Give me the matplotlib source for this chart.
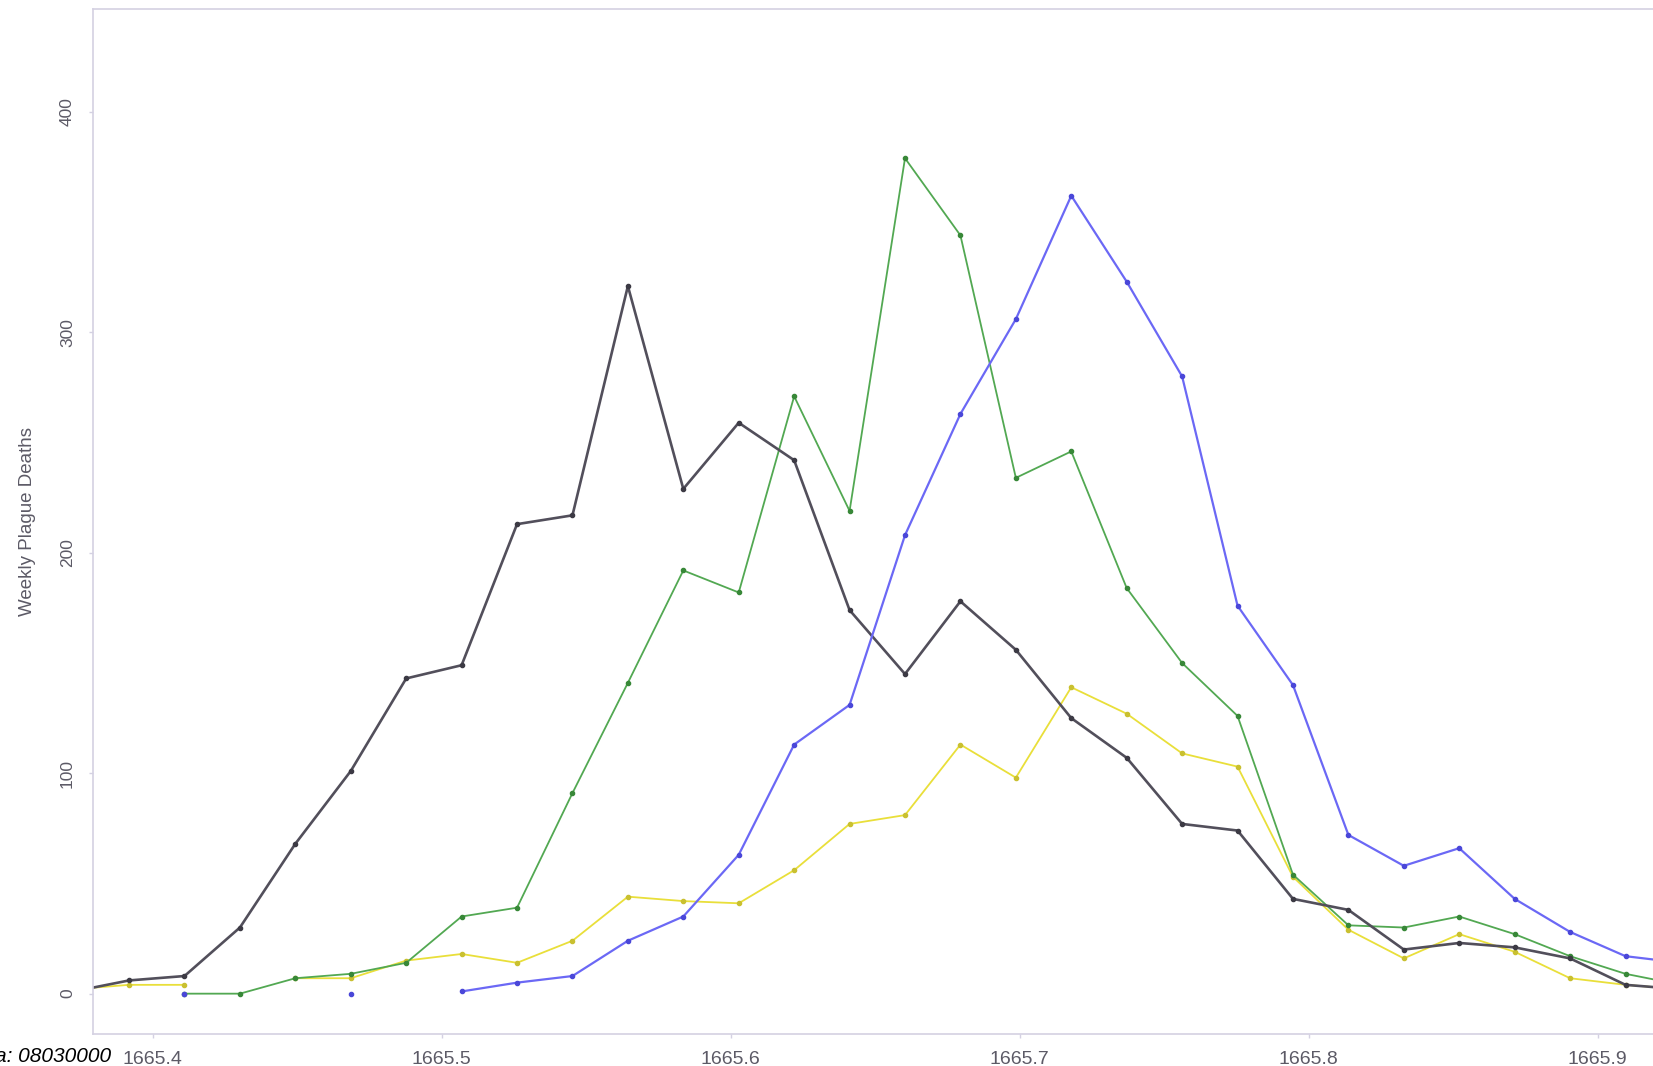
import numpy as np
import matplotlib
matplotlib.use("Agg")
import matplotlib.pyplot as plt

plt.rcParams['font.family'] = ['Liberation Sans', 'DejaVu Sans']

# Week-ending day of year, 1665
week_day = [136, 143, 150, 157, 164, 171, 178, 185, 192, 199,
            206, 213, 220, 227, 234, 241, 248, 255, 262, 269,
            276, 283, 290, 297, 304, 311, 318, 325, 332, 339]
year = 1665
nan = np.nan

# Weekly plague deaths per parish group
deaths_gray = [1, 6, 8, 30, 68, 101, 143, 149, 213, 217,
               321, 229, 259, 242, 174, 145, 178, 156, 125, 107,
               77, 74, 43, 38, 20, 23, 21, 16, 4, 2]
deaths_green = [nan, nan, 0, 0, 7, 9, 14, 35, 39, 91,
                141, 192, 182, 271, 219, 379, 344, 234, 246, 184,
                150, 126, 54, 31, 30, 35, 27, 17, 9, 4]
deaths_blue = [nan, nan, 0, nan, nan, 0, nan, 1, 5, 8,
               24, 35, 63, 113, 131, 208, 263, 306, 362, 323,
               280, 176, 140, 72, 58, 66, 43, 28, 17, 14]
deaths_yellow = [2, 4, 4, nan, 7, 7, 15, 18, 14, 24,
                 44, 42, 41, 56, 77, 81, 113, 98, 139, 127,
                 109, 103, 53, 29, 16, 27, 19, 7, 4, 2]

x_ticks = [1665.4, 1665.5, 1665.6, 1665.7, 1665.8, 1665.9]
y_ticks = [0, 100, 200, 300, 400]

x = year + np.array(week_day) / 365.0

W, H = 1653, 1066
fig = plt.figure(figsize=(W / 100, H / 100), dpi=100)
left, top, bottom = 93, 9, 1034
ax = fig.add_axes([left / W, 1 - bottom / H, (W - left) / W, (bottom - top) / H])

series = [
    (deaths_yellow, "#e9df3a", "#c9c030", 1.3),
    (deaths_green, "#52a852", "#388838", 1.3),
    (deaths_gray, "#524f5b", "#3c3a44", 1.9),
    (deaths_blue, "#6b68f5", "#4a47d8", 1.6),
]
for vals, col, mcol, lw in series:
    ax.plot(x, vals, color=col, lw=lw, marker='o', ms=3.0,
            mfc=mcol, mec=mcol, solid_joinstyle='round', clip_on=True)

ax.set_xlim(1665.3793, 1665.9191)
ax.set_ylim(-18.3, 446.7)

spine_col = "#d4d1e2"
for side in ("left", "bottom", "top"):
    ax.spines[side].set_color(spine_col)
    ax.spines[side].set_linewidth(1.2)
ax.spines["right"].set_visible(False)

ax.set_xticks(x_ticks)
ax.set_xticklabels([f"{t:.1f}" for t in x_ticks])
ax.set_yticks(y_ticks)
ax.set_yticklabels([str(t) for t in y_ticks], rotation=90, va='center')

ax.tick_params(axis='x', length=3, width=1, color=spine_col, pad=9,
               labelsize=14, labelcolor="#5c5a66")
ax.tick_params(axis='y', length=3, width=1, color=spine_col, pad=10,
               labelsize=12.5, labelcolor="#5c5a66")

ax.set_ylabel("Weekly Plague Deaths", fontsize=13.5, color="#5c5a66")
ax.yaxis.set_label_coords((36 - left) / (W - left), 0.5)

fig.text(111 / W, 1 - 1056 / H, "a: 08030000", ha='right', va='center',
         fontsize=15, style='italic', color='black')

fig.savefig("out.png", dpi=100, facecolor='white')
